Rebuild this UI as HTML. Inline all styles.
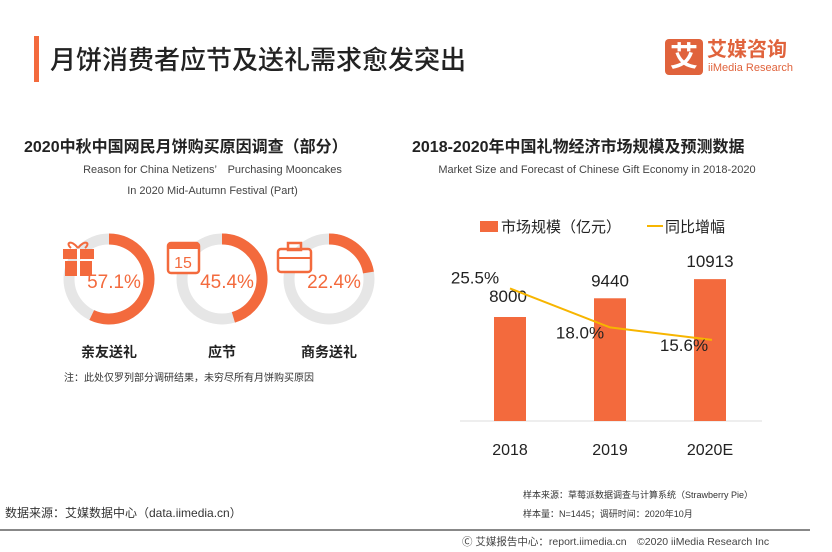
<!DOCTYPE html>
<html><head><meta charset="utf-8">
<style>
body{margin:0;width:832px;height:552px;background:#fff;position:relative;overflow:hidden;font-family:"Liberation Sans","Noto Sans CJK SC",sans-serif;color:#222}
.a{position:absolute;white-space:nowrap}
</style></head><body>
<div class="a" style="left:34px;top:36px;width:5px;height:46px;background:#f36a3d"></div>
<div class="a" style="left:50px;top:40px;font-size:26px;font-weight:500;color:#222">月饼消费者应节及送礼需求愈发突出</div>
<div class="a" style="left:665px;top:39px;width:38px;height:36px;background:#e0633c;border-radius:4px;color:#fff;font-size:28px;font-weight:bold;text-align:center;line-height:36px">艾</div>
<div class="a" style="left:707px;top:39px;font-size:20px;font-weight:bold;color:#e0633c;line-height:22px">艾媒咨询</div>
<div class="a" style="left:708px;top:62px;font-size:11px;color:#e0633c">iiMedia Research</div>

<div class="a" style="left:24px;top:133px;font-size:16px;font-weight:bold">2020中秋中国网民月饼购买原因调查（部分）</div>
<div class="a" style="left:40px;top:160px;width:345px;text-align:center;font-size:11px;color:#444;line-height:21px;white-space:normal">Reason for China Netizens’　Purchasing Mooncakes<br>In 2020 Mid-Autumn Festival (Part)</div>
<div class="a" style="left:412px;top:133px;font-size:16px;font-weight:bold">2018-2020年中国礼物经济市场规模及预测数据</div>
<div class="a" style="left:412px;top:160px;width:370px;text-align:center;font-size:11px;color:#444;line-height:21px">Market Size and Forecast of Chinese Gift Economy in 2018-2020</div>

<svg class="a" style="left:0;top:0" width="832" height="552" id="svg"></svg>

<div class="a" style="left:64px;top:369px;font-size:10px;color:#333">注：此处仅罗列部分调研结果，未穷尽所有月饼购买原因</div>

<div class="a" style="left:5px;top:504px;font-size:12px;color:#333">数据来源：艾媒数据中心（data.iimedia.cn）</div>
<div class="a" style="left:523px;top:488px;font-size:9px;color:#333">样本来源：草莓派数据调查与计算系统（Strawberry Pie）</div>
<div class="a" style="left:523px;top:507px;font-size:9px;color:#333">样本量：N=1445；调研时间：2020年10月</div>
<div class="a" style="left:0;top:529px;width:810px;height:2px;background:#888"></div>
<div class="a" style="left:462px;top:534px;font-size:10.5px;color:#444">Ⓒ 艾媒报告中心：report.iimedia.cn　©2020 iiMedia Research Inc</div>

<script>
const donutLabels=['亲友送礼','应节','商务送礼'];
const donutValues=[57.1,45.4,22.4];
const years=['2018','2019','2020E'];
const marketSize=[8000,9440,10913];
const growth=[25.5,18.0,15.6];
const growthLabels=['25.5%','18.0%','15.6%'];

const NS='http://www.w3.org/2000/svg';
const svg=document.getElementById('svg');
function mk(t,a,txt){const e=document.createElementNS(NS,t);for(const k in a)e.setAttribute(k,a[k]);if(txt!=null)e.textContent=txt;svg.appendChild(e);return e;}
const OR='#f36a3d';
const cxs=[109,222,329], cy=279, R=40;
donutValues.forEach((v,i)=>{
  const cx=cxs[i];
  const g=mk('circle',{cx:cx,cy:cy,r:R,fill:'none',stroke:'#e6e6e6','stroke-width':11});
  
  
  const ang=v/100*2*Math.PI;
  const x=cx+R*Math.sin(ang), y=cy-R*Math.cos(ang);
  const p=mk('path',{d:`M${cx} ${cy-R} A${R} ${R} 0 ${ang>Math.PI?1:0} 1 ${x} ${y}`,fill:'none',stroke:OR,'stroke-width':11});
  
  
  const t=mk('text',{x:cx+5,y:cy+9,'text-anchor':'middle','font-size':19,fill:OR},v.toFixed(1)+'%');
  
  
  const l=mk('text',{x:cx,y:357,'text-anchor':'middle','font-size':14,'font-weight':'bold',fill:'#222'},donutLabels[i]);
  
  
});
let ic;
ic=mk('g',{fill:OR});
ic.innerHTML='<rect x="63" y="249" width="31" height="10"/><rect x="65" y="261" width="27" height="15"/><rect x="77" y="249" width="3" height="27" fill="#fff"/><path d="M78 248 C71 239 65 243 71 248 M78 248 C85 239 91 243 85 248" stroke="'+OR+'" stroke-width="2" fill="none"/>';
svg.appendChild(ic);
ic=mk('g',{});
ic.innerHTML='<rect x="168" y="243" width="31" height="30" rx="3" fill="#fff" stroke="'+OR+'" stroke-width="2.5"/><rect x="168" y="243" width="31" height="6" fill="'+OR+'"/><text x="183" y="268" text-anchor="middle" font-size="16" fill="'+OR+'">15</text>';
svg.appendChild(ic);
ic=mk('g',{});
ic.innerHTML='<rect x="278" y="249" width="33" height="23" rx="3" fill="#fff" stroke="'+OR+'" stroke-width="2.5"/><rect x="288" y="243" width="13" height="7" fill="none" stroke="'+OR+'" stroke-width="2.5"/><line x1="278" y1="258" x2="311" y2="258" stroke="'+OR+'" stroke-width="2"/>';
svg.appendChild(ic);

const base=421, sy=0.013, py=5.2;
const xc=i=>510+i*100;
const ax=mk('line',{x1:460,y1:base,x2:762,y2:base,stroke:'#ddd','stroke-width':1});

marketSize.forEach((v,i)=>{
  const h=v*sy;
  const r=mk('rect',{x:xc(i)-16,y:base-h,width:32,height:h,fill:OR});
  
  const t=mk('text',{x:xc(i)+(i==0?-2:0),y:base-h-(i==0?15:12),'text-anchor':'middle','font-size':17,fill:'#222'},String(v));
  
  const yl=mk('text',{x:xc(i),y:455,'text-anchor':'middle','font-size':16,fill:'#222'},years[i]);
  
});
const pts=growth.map((v,i)=>[xc(i)+(i==2?2:0),base-v*py]);
const ln=mk('polyline',{points:pts.map(p=>p.join(',')).join(' '),fill:'none',stroke:'#f7b500','stroke-width':2});

const off=[[-35,-5],[-30,11],[-28,11]];
growth.forEach((v,i)=>{
  const t=mk('text',{x:pts[i][0]+off[i][0],y:pts[i][1]+off[i][1],'text-anchor':'middle','font-size':17,fill:'#222'},growthLabels[i]);
  
});
const lr=mk('rect',{x:480,y:221,width:18,height:11,fill:OR});

const lt=mk('text',{x:501,y:232,'font-size':15,fill:'#222'},'市场规模（亿元）');

const ll=mk('line',{x1:647,y1:226,x2:663,y2:226,stroke:'#f7b500','stroke-width':2});

const lt2=mk('text',{x:665,y:232,'font-size':15,fill:'#222'},'同比增幅');

</script>
</body></html>
